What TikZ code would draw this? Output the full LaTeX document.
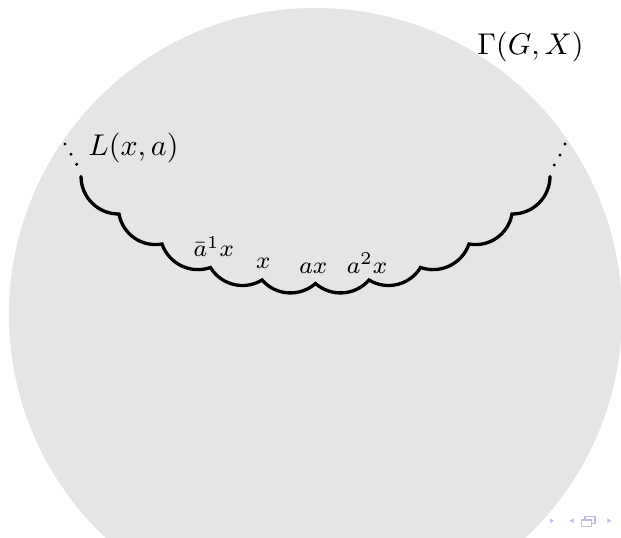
\documentclass[tikz,border=0pt]{standalone}
\usepackage{amsmath}
\definecolor{disk}{RGB}{229,229,229}
\definecolor{navcol}{RGB}{190,190,232}
\tikzset{
  curvestyle/.style={line width=1.1pt, line cap=round, line join=miter},
  mainlbl/.style={inner sep=0pt, font=\normalsize},
  smalllbl/.style={inner sep=0pt, font=\footnotesize, anchor=base},
  dotmark/.style={fill=black},
  navtri/.style={fill=navcol, draw=none},
  navbox/.style={draw=navcol, line width=0.35pt, fill=white},
}
\begin{document}
\begin{tikzpicture}[x=0.33333pt,y=-0.33333pt]
\useasboundingbox (0,0) rectangle (621,537);
\begin{scope}
  \clip (0,0) rectangle (621,537);
  \fill[disk] (315.5,314.5) circle[radius=102.17pt];
\end{scope}

% titles
\node[mainlbl] (gamma) at (530.5,47) {$\Gamma(G,X)$};
\node[mainlbl] (line) at (133.5,148.3) {$L(x,a)$};

% scalloped line
\coordinate (p0) at (81,176.5);
\coordinate (p1) at (119,214);
\coordinate (p2) at (162,244);
\coordinate (p3) at (210.5,267.5);
\coordinate (p4) at (262,280);
\coordinate (p5) at (315.5,283.5);
\coordinate (p6) at (369,280);
\coordinate (p7) at (420.5,267.5);
\coordinate (p8) at (469,244);
\coordinate (p9) at (512,214);
\coordinate (p10) at (550,176.5);
\draw[curvestyle] (p0) to[bend right=45] (p1) to[bend right=45] (p2)
  to[bend right=45] (p3) to[bend right=45] (p4) to[bend right=45] (p5)
  to[bend right=45] (p6) to[bend right=45] (p7) to[bend right=45] (p8)
  to[bend right=45] (p9) to[bend right=45] (p10);

% dots
\foreach \x/\y in {65/144, 71/154.3, 76.7/164.3, 565/144, 560/155, 554.3/165}
  \fill[dotmark] (\x,\y) circle[radius=0.55pt];

% vertex labels
\node[smalllbl] (ainv) at (213.7,256.5) {$\bar{a}^1x$};
\node[smalllbl] (vx) at (263.3,268) {$x$};
\node[smalllbl] (vax) at (313.3,273) {$ax$};
\node[smalllbl] (va2x) at (367,273) {$a^2x$};

% navigation symbols
\fill[navtri] (550,518.3) -- (553.8,520.7) -- (550,523.1) -- cycle;
\fill[navtri] (573.5,518.3) -- (569.7,520.7) -- (573.5,523.1) -- cycle;
\fill[navtri] (607.3,518.3) -- (611.1,520.7) -- (607.3,523.1) -- cycle;
\draw[navbox] (585,516.7) rectangle (595,523.5);
\draw[navbox] (581.7,520) rectangle (591.7,526.7);
\end{tikzpicture}
\end{document}
